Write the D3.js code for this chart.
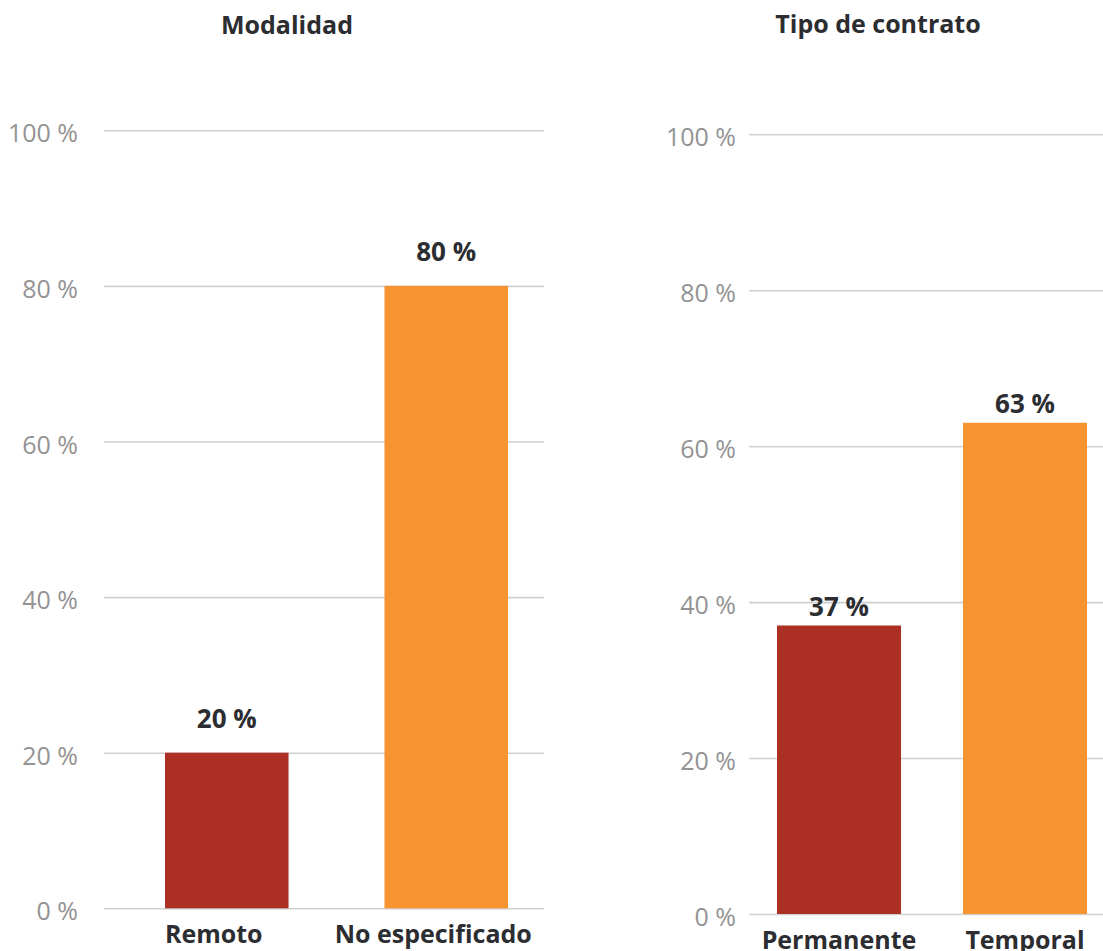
<!DOCTYPE html>
<html lang="es">
<head>
<meta charset="utf-8">
<title>Modalidad y tipo de contrato</title>
<script src="https://cdn.jsdelivr.net/npm/d3@7"></script>
<style>
  html, body { margin: 0; padding: 0; background: #ffffff; }
  svg { display: block; font-family: "Open Sans", "Noto Sans", sans-serif; }
</style>
</head>
<body>
<svg id="chart" width="1103" height="951"></svg>
<script>
// Modalidad de trabajo
const modalidadCategorias = ["Remoto", "No especificado"];
const modalidadValores = [20, 80];

// Tipo de contrato
const contratoCategorias = ["Permanente", "Temporal"];
const contratoValores = [37, 63];

// Eje vertical (porcentaje)
const ticksPorcentaje = [0, 20, 40, 60, 80, 100];

const colores = ["#AB3023", "#F79431"];
const textoOscuro = "#2b2d31";
const textoGris = "#939393";
const lineaGris = "#cfcfcf";

const svg = d3.select("#chart");

const paneles = [
  {
    titulo: "Modalidad",
    categorias: modalidadCategorias,
    valores: modalidadValores,
    grid: [104, 544],
    barras: [165, 508],
    paddingInner: 0.437,
    y: [908.3, 130.3],
    tickRight: 78,
    tituloX: 287,
    tituloY: 34,
    gapEtiqueta: 25,
    dxCategoria: -13
  },
  {
    titulo: "Tipo de contrato",
    categorias: contratoCategorias,
    valores: contratoValores,
    grid: [749, 1103],
    barras: [777, 1087],
    paddingInner: 0.333,
    y: [914, 134.3],
    tickRight: 736,
    tituloX: 878,
    tituloY: 33,
    gapEtiqueta: 10,
    dxCategoria: 0
  }
];

paneles.forEach(p => {
  const g = svg.append("g");

  const y = d3.scaleLinear().domain([0, 100]).range(p.y);
  const x = d3.scaleBand()
    .domain(p.categorias)
    .range(p.barras)
    .paddingInner(p.paddingInner)
    .paddingOuter(0);

  // Líneas de cuadrícula y etiquetas del eje
  const ancho = p.grid[1] - p.grid[0];
  const eje = d3.axisLeft(y)
    .tickValues(ticksPorcentaje)
    .tickFormat(d => d + " %")
    .tickSize(-ancho)
    .tickPadding(p.grid[0] - p.tickRight);

  const gEje = g.append("g")
    .attr("transform", `translate(${p.grid[0]},0)`)
    .call(eje);
  gEje.select(".domain").remove();
  gEje.selectAll(".tick line")
    .attr("stroke", lineaGris)
    .attr("stroke-width", 1.6);
  gEje.selectAll(".tick text")
    .attr("fill", textoGris)
    .attr("font-size", 25)
    .attr("font-weight", 400)
    .attr("font-family", "'Open Sans', sans-serif")
    .attr("dy", "0.46em");

  const datos = p.categorias.map((c, i) => ({ categoria: c, valor: p.valores[i], i }));

  // Barras
  g.selectAll("rect.barra")
    .data(datos)
    .join("rect")
    .attr("class", "barra")
    .attr("x", d => x(d.categoria))
    .attr("width", x.bandwidth())
    .attr("y", d => y(d.valor))
    .attr("height", d => y(0) - y(d.valor))
    .attr("fill", d => colores[d.i]);

  // Valores sobre las barras
  g.selectAll("text.valor")
    .data(datos)
    .join("text")
    .attr("class", "valor")
    .attr("x", d => x(d.categoria) + x.bandwidth() / 2)
    .attr("y", d => y(d.valor) - p.gapEtiqueta)
    .attr("text-anchor", "middle")
    .attr("font-size", 26)
    .attr("font-weight", 700)
    .attr("fill", textoOscuro)
    .text(d => d.valor + " %");

  // Nombres de categoría
  g.selectAll("text.categoria")
    .data(datos)
    .join("text")
    .attr("class", "categoria")
    .attr("x", d => x(d.categoria) + x.bandwidth() / 2 + p.dxCategoria)
    .attr("y", y(0) + 35)
    .attr("text-anchor", "middle")
    .attr("font-size", 25)
    .attr("font-weight", 700)
    .attr("fill", textoOscuro)
    .text(d => d.categoria);

  // Título del panel
  g.append("text")
    .attr("x", p.tituloX)
    .attr("y", p.tituloY)
    .attr("text-anchor", "middle")
    .attr("font-size", 25)
    .attr("font-weight", 700)
    .attr("fill", textoOscuro)
    .text(p.titulo);
});
</script>
</body>
</html>
